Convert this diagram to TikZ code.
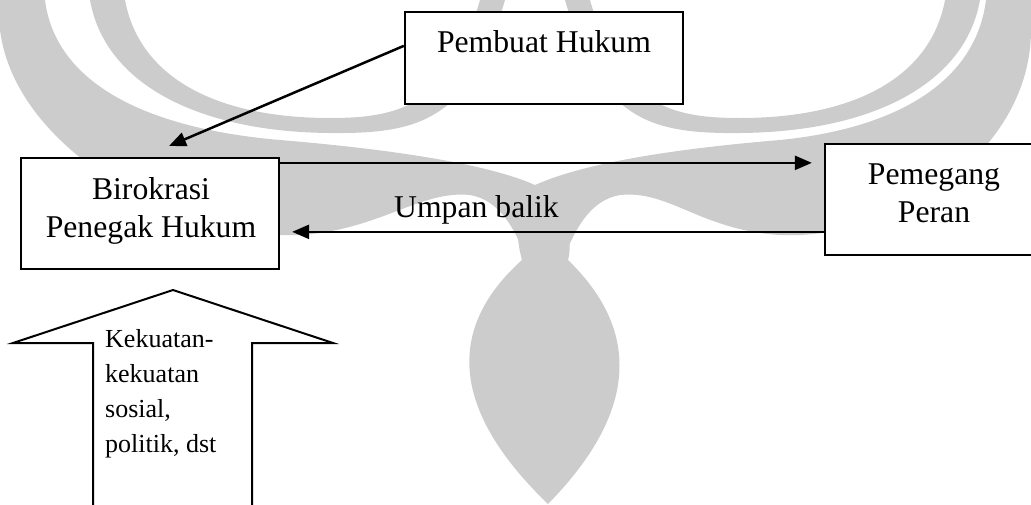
\documentclass[tikz,border=0pt]{standalone}
\usepackage{fontspec}
\setmainfont{Liberation Serif}
\usetikzlibrary{arrows.meta,calc}
\definecolor{mark}{gray}{0.80}
\tikzset{
  box/.style={draw=black, line width=2.3pt, fill=white, inner sep=0pt},
  lbl/.style={font=\fontsize{31.7}{38}\selectfont, align=center, anchor=base, inner sep=0pt},
  sml/.style={font=\fontsize{26}{34.7}\selectfont, align=left, anchor=base west, inner sep=0pt},
  arr/.style={line width=2.5pt, -{Triangle[length=17pt,width=14pt]}},
  bigarrow/.style={draw=black, line width=2pt, fill=white},
  wm/.style={fill=mark, draw=none}
}
\begin{document}
\begin{tikzpicture}[x=1pt,y=-1pt]
\useasboundingbox (0,0) rectangle (1031,504);
\clip (0,0) rectangle (1031,504);

% faint emblem in the background
% outer horns, sweeping from the top corners into the neck
\fill[wm] (0,0) -- (45,0) .. controls (55,80) and (140,128) .. (280,140)
  .. controls (400,150) and (490,165) .. (535,185) -- (525,255)
  .. controls (515,230) and (500,200) .. (470,195)
  .. controls (420,190) and (380,230) .. (300,235)
  .. controls (180,240) and (15,150) .. (0,30) -- cycle;
\fill[wm] (1031,0) -- (986,0) .. controls (976,80) and (900,128) .. (780,140)
  .. controls (660,150) and (580,165) .. (535,185) -- (565,255)
  .. controls (575,230) and (590,200) .. (620,195)
  .. controls (670,190) and (700,230) .. (780,235)
  .. controls (900,240) and (1031,150) .. (1031,30) -- cycle;
% inner horns, rising again behind the top box
\fill[wm] (90,0) .. controls (105,85) and (200,132) .. (330,133)
  .. controls (420,134) and (470,120) .. (505,0) -- (480,0)
  .. controls (450,105) and (400,118) .. (330,118)
  .. controls (220,118) and (140,80) .. (125,0) -- cycle;
\begin{scope}[xshift=1070pt, x=-1pt]
\fill[wm] (90,0) .. controls (105,85) and (200,132) .. (330,133)
  .. controls (420,134) and (470,120) .. (505,0) -- (480,0)
  .. controls (450,105) and (400,118) .. (330,118)
  .. controls (220,118) and (140,80) .. (125,0) -- cycle;
\end{scope}
% body
\fill[wm] (535,185) .. controls (515,205) and (515,235) .. (522,260)
  .. controls (455,320) and (440,400) .. (548,504)
  .. controls (650,400) and (630,320) .. (568,260)
  .. controls (575,235) and (560,205) .. (535,185) -- cycle;

% boxes
\node[box, minimum width=278pt, minimum height=92pt] (pembuat) at (544,58) {};
\node[box, minimum width=258pt, minimum height=111pt] (bir) at (150,213.5) {};
\node[box, minimum width=220pt, minimum height=111pt] (pem) at (935,199.5) {};

% labels
\node[lbl] (pembuatT) at (544,52) {Pembuat Hukum};
\node[lbl] (birT) at (151,237) {Birokrasi\\Penegak Hukum};
\node[lbl] (pemT) at (934,222) {Pemegang\\Peran};
\node[lbl] (umpan) at (476.5,217) {Umpan balik};

% connectors
\coordinate (birTip) at (169,146);
\draw[arr] ($(pembuat.north west)+(0,35)$) -- (birTip);
\draw[arr] ($(bir.north east)+(0,6)$) -- ($(pem.north west)+(-12,20)$);
\draw[arr] ($(pem.north west)+(0,89)$) -- ($(bir.north east)+(12,75)$);

% block arrow pushing up
\draw[bigarrow] (93,520) -- (93,343) -- (13,343) -- (173,290) -- (333,343)
  -- (252,343) -- (252,520);
\node[sml] (forces) at (105,452) {Kekuatan-\\kekuatan\\sosial,\\politik, dst};
\end{tikzpicture}
\end{document}
